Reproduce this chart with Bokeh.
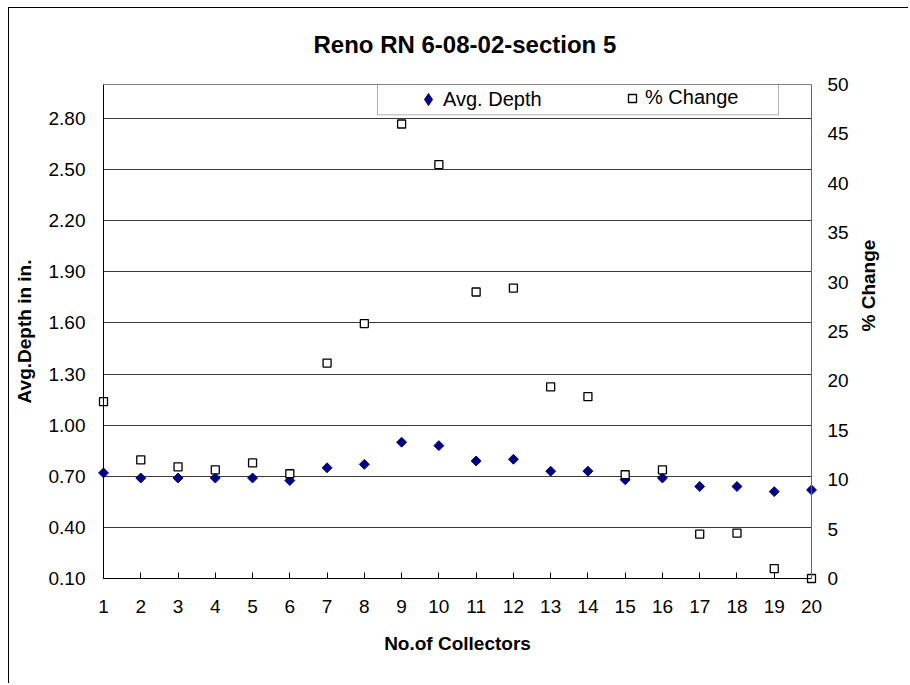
import math
from bokeh.plotting import figure
from bokeh.models import (Range1d, LinearAxis, FixedTicker, NumeralTickFormatter, Grid,
                          Legend, LegendItem, BoxAnnotation, ColumnDataSource)
from bokeh.embed import file_html
from bokeh.resources import INLINE

# ---------------- data ----------------
collectors = list(range(1, 21))
avg_depth = [0.72, 0.69, 0.69, 0.69, 0.69, 0.675, 0.75, 0.77, 0.90, 0.88,
             0.79, 0.80, 0.73, 0.73, 0.68, 0.69, 0.64, 0.64, 0.61, 0.62]
pct_change = [17.9, 12.0, 11.3, 11.0, 11.7, 10.6, 21.8, 25.8, 46.0, 41.9,
              29.0, 29.4, 19.4, 18.4, 10.5, 11.0, 4.5, 4.6, 1.0, 0.0]
depth_ticks = [0.10, 0.40, 0.70, 1.00, 1.30, 1.60, 1.90, 2.20, 2.50, 2.80]
pct_ticks = [0, 5, 10, 15, 20, 25, 30, 35, 40, 45, 50]
title_text = "Reno  RN 6-08-02-section 5"
x_title = "No.of Collectors"
y_title = "Avg.Depth in in."
y2_title = "% Change"
series_names = ["Avg. Depth", "% Change"]

# ---------------- layout ----------------
FONT = "Liberation Sans"
OX, OY = 9, 8            # page position of the canvas (inside the chart-area border)
W, H = 900, 676
ML, MR, MT, MB = 88, 92, 70, 100
PAD = 6
frame_w = W - ML - MR
frame_h = H - MT - MB
FL, FT = OX + ML, OY + MT          # frame left/top on the page
FB = FT + frame_h
x_lo, x_hi = 1, 20
d_lo, d_hi = 0.10, 3.00
c_lo, c_hi = 0, 50
ppx = (frame_w - 2 * PAD) / (x_hi - x_lo)
ppd = (frame_h - 2 * PAD) / (d_hi - d_lo)
xe = PAD / ppx
de = PAD / ppd
ce = PAD * (c_hi - c_lo) / (frame_h - 2 * PAD)

src = ColumnDataSource(dict(x=collectors, d=avg_depth, c=pct_change))

p = figure(width=W, height=H, output_backend="svg", toolbar_location=None,
           x_range=Range1d(x_lo - xe, x_hi + xe), y_range=Range1d(d_lo - de, d_hi + de),
           x_axis_location=None, y_axis_location=None,
           min_border_left=ML, min_border_right=MR, min_border_top=MT, min_border_bottom=MB)
p.styles = {"position": "relative", "left": f"{OX}px", "top": f"{OY}px",
            "box-shadow": "-1px -1px 0px 0px black"}
p.extra_y_ranges = {"pct": Range1d(c_lo - ce, c_hi + ce)}
p.center = [c for c in p.center if not isinstance(c, Grid)]
p.outline_line_color = None
p.background_fill_color = "white"
p.border_fill_color = "white"

# title
p.title.text = title_text
p.title.align = "left"
p.title.offset = 313 - FL
p.title.vertical_align = "middle"
p.title.text_font = FONT
p.title.text_font_size = "24px"
p.title.text_font_style = "bold"
p.title.text_color = "black"
p.title.standoff = 40


def label_axis(ax, standoff, label_standoff):
    ax.major_label_text_font = FONT
    ax.major_label_text_font_size = "19px"
    ax.major_label_text_color = "black"
    ax.axis_label_text_font = FONT
    ax.axis_label_text_font_size = "19px"
    ax.axis_label_text_font_style = "bold"
    ax.axis_label_text_color = "black"
    ax.minor_tick_line_color = None
    ax.major_tick_line_color = None
    ax.major_tick_out = 0
    ax.major_tick_in = 0
    ax.axis_line_color = None
    ax.major_label_standoff = standoff
    ax.axis_label_standoff = label_standoff


def line_axis(ax, color):
    ax.minor_tick_line_color = None
    ax.major_tick_line_color = None
    ax.major_tick_out = 0
    ax.major_tick_in = 0
    ax.axis_line_color = color
    ax.axis_line_width = 1


# --- label axes (at the frame edges) ---
xb = LinearAxis(ticker=FixedTicker(ticks=collectors), axis_label=x_title)
label_axis(xb, 15, 17)
p.add_layout(xb, "below")

yl = LinearAxis(ticker=FixedTicker(ticks=depth_ticks), formatter=NumeralTickFormatter(format="0.00"),
                axis_label=y_title)
label_axis(yl, 12, 11)
p.add_layout(yl, "left")

yr = LinearAxis(y_range_name="pct", ticker=FixedTicker(ticks=pct_ticks), axis_label=y2_title)
label_axis(yr, 10, 17)
try:
    yr.axis_label_orientation = math.pi / 2
except Exception:
    pass
p.add_layout(yr, "right")

# --- line axes (at the data edges) ---
xb2 = LinearAxis(ticker=FixedTicker(ticks=[]), fixed_location=d_lo, bounds=(x_lo, x_hi))
line_axis(xb2, "black")
p.add_layout(xb2, "below")

xt2 = LinearAxis(ticker=FixedTicker(ticks=[]), fixed_location=d_hi, bounds=(x_lo, x_hi))
line_axis(xt2, "#808080")
p.add_layout(xt2, "above")

yl2 = LinearAxis(ticker=FixedTicker(ticks=[]), fixed_location=x_lo, bounds=(d_lo, d_hi))
line_axis(yl2, "black")
p.add_layout(yl2, "left")

yr2 = LinearAxis(y_range_name="pct", ticker=FixedTicker(ticks=[]), fixed_location=x_hi, bounds=(c_lo, c_hi))
line_axis(yr2, "#666666")
p.add_layout(yr2, "right")

# horizontal grid
g = Grid(dimension=1, ticker=FixedTicker(ticks=depth_ticks), grid_line_color="#3a3a3a", grid_line_width=1)
try:
    g.cross_bounds = (x_lo, x_hi)
except Exception:
    pass
p.add_layout(g)

# inward tick marks on the category axis (short vertical grid lines)
tg = Grid(dimension=0, ticker=FixedTicker(ticks=collectors), grid_line_color="black", grid_line_width=1)
try:
    tg.cross_bounds = (d_lo, d_lo + 6 / ppd)
except Exception:
    tg.visible = False
p.add_layout(tg)

# data
r_d = p.scatter("x", "d", source=src, marker="square", angle=math.pi / 4, size=7,
                fill_color="#000080", line_color="#000080", line_width=1)
r_c = p.scatter("x", "c", source=src, y_range_name="pct", marker="square", size=8,
                fill_color="white", line_color="black", line_width=1.3)
# legend swatch for the diamonds (hidden renderer of the same series)
r_dl = p.scatter("x", "d", source=src, marker="diamond", size=11,
                 fill_color="#000080", line_color="#000080", visible=False)

# legend box (page px -> data)
def px_to_x(px):
    return x_lo + (px - (FL + PAD)) / ppx


def px_to_d(py):
    return d_hi - (py - (FT + PAD)) / ppd


p.add_layout(BoxAnnotation(left=px_to_x(377), right=px_to_x(778), top=px_to_d(84), bottom=px_to_d(114.3),
                           fill_color="white", fill_alpha=1, line_color="black", line_width=1,
                           level="overlay"))

LEG_CY = 99
leg_a = Legend(items=[LegendItem(label=series_names[0], renderers=[r_dl])],
               location=(413 - FL, (FB - LEG_CY) - 15),
               padding=0, margin=0, spacing=0, glyph_width=30, glyph_height=30,
               label_height=30, label_standoff=0, inactive_fill_alpha=0,
               border_line_color=None, background_fill_alpha=0,
               label_text_font=FONT, label_text_font_size="20px", label_text_color="black")
leg_b = Legend(items=[LegendItem(label=series_names[1], renderers=[r_c])],
               location=(622 - FL, (FB - LEG_CY) - 10),
               padding=0, margin=0, spacing=0, glyph_width=20, glyph_height=20,
               label_height=20, label_standoff=3, inactive_fill_alpha=0,
               border_line_color=None, background_fill_alpha=0,
               label_text_font=FONT, label_text_font_size="20px", label_text_color="black")
p.add_layout(leg_a)
p.add_layout(leg_b)

open("out.html", "w").write(file_html(p, INLINE))
